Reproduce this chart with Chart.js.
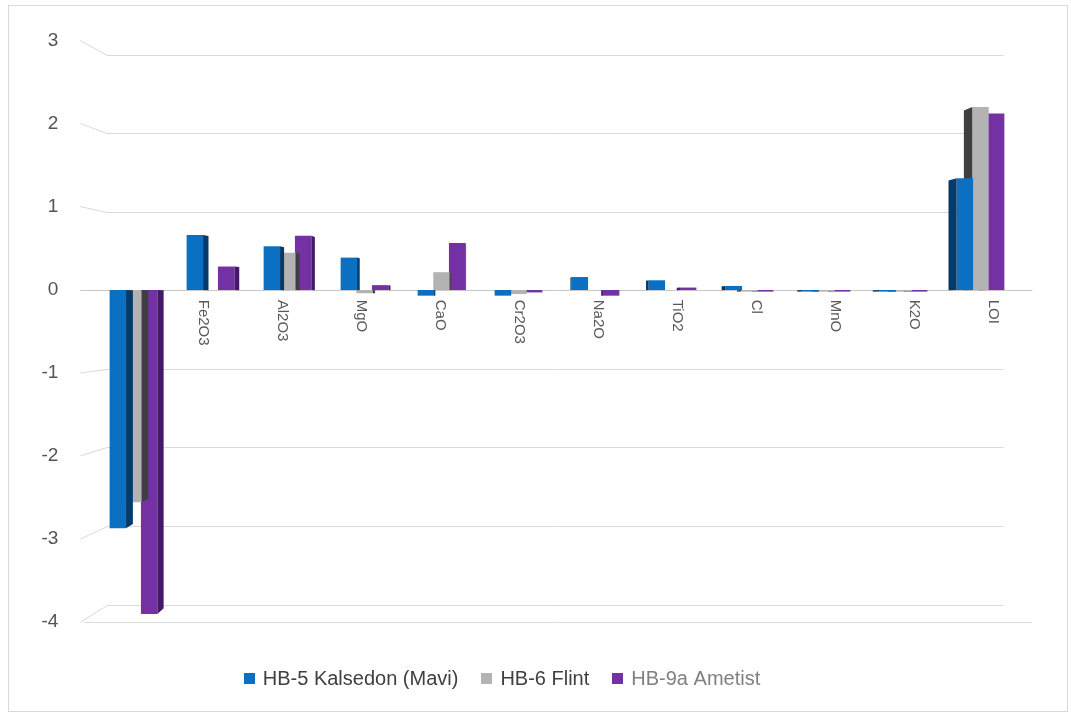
<!DOCTYPE html>
<html>
<head>
<meta charset="utf-8">
<script src="https://cdn.jsdelivr.net/npm/chart.js@4.4.1/dist/chart.umd.min.js"></script>
<style>
  html, body { margin: 0; padding: 0; background: #ffffff; }
  canvas { display: block; }
</style>
</head>
<body>
<canvas id="chart" width="1071" height="713"></canvas>
<script>
// Oxide differences per sample
const categories = ['SiO2', 'Fe2O3', 'Al2O3', 'MgO', 'CaO', 'Cr2O3', 'Na2O', 'TiO2', 'Cl', 'MnO', 'K2O', 'LOI'];
const kalsedon = [-2.94, 0.68, 0.54, 0.40, -0.07, -0.07, 0.16, 0.12, 0.05, -0.02, -0.02, 1.38];
const flint    = [-2.62, 0.00, 0.46, -0.04, 0.22, -0.05, 0.00, 0.00, -0.02, -0.02, -0.02, 2.26];
const ametist  = [-4.00, 0.29, 0.67, 0.06, 0.58, -0.03, -0.07, 0.03, -0.02, -0.02, -0.02, 2.18];
const seriesNames = ['HB-5 Kalsedon (Mavi)', 'HB-6 Flint', 'HB-9a Ametist'];
const yTickValues = [3, 2, 1, 0, -1, -2, -3, -4];
const yTickLabels = ['3', '2', '1', '0', '-1', '-2', '-3', '-4'];

// Styling
const seriesColors = ['#0c70c2', '#b3b3b3', '#7431a4'];
const sideColors   = ['#053a69', '#3f3f3f', '#44196a'];
const legendTextColors = ['#404040', '#404040', '#808080'];
const FONT = '"Liberation Sans", Arial, sans-serif';

// Simple perspective: the bars sit on a middle plane, the tick labels on the
// front plane and the gridlines on the back wall.
const VP = { x: 505, y: 300 };
const FRONT = 1.026, BACK = 0.97, DEPTH = 0.982;
const proj = (x, y, f) => [VP.x + (x - VP.x) * f, VP.y + (y - VP.y) * f];
const crisp = v => Math.round(v) + 0.5;

function line(ctx, x1, y1, x2, y2) {
  ctx.beginPath();
  ctx.moveTo(x1, y1);
  ctx.lineTo(x2, y2);
  ctx.stroke();
}

const wallPlugin = {
  id: 'wall',
  beforeDatasetsDraw(chart) {
    const { ctx, chartArea: ca } = chart;
    const ys = chart.scales.y;
    ctx.save();
    ctx.lineWidth = 1;
    ctx.font = '19px ' + FONT;
    ctx.fillStyle = '#545454';
    ctx.textAlign = 'right';
    ctx.textBaseline = 'middle';
    yTickValues.forEach((v, i) => {
      const yb = ys.getPixelForValue(v);
      const [bl, by] = proj(ca.left, yb, BACK);
      const [br] = proj(ca.right, yb, BACK);
      const [fl, fy] = proj(ca.left, yb, FRONT);
      const [fr] = proj(ca.right, yb, FRONT);
      ctx.strokeStyle = '#d9d9d9';
      if (v === 0) {
        ctx.strokeStyle = '#c8c8c8';
        line(ctx, fl - 4, crisp(fy), fr, crisp(fy));
      } else {
        line(ctx, bl, crisp(by), br, crisp(by));
        line(ctx, fl - 4, fy, bl, crisp(by));
      }
      if (i === yTickValues.length - 1) {
        // front edge of the floor
        line(ctx, fl, crisp(fy), fr, crisp(fy));
      }
      ctx.fillText(yTickLabels[i], fl - 26, fy);
    });
    ctx.restore();
  },
  afterDatasetDraw(chart, args) {
    const { ctx } = chart;
    const idx = args.index;
    ctx.save();
    ctx.fillStyle = sideColors[idx];
    args.meta.data.forEach(bar => {
      const { x, y, base, width } = bar.getProps(['x', 'y', 'base', 'width'], true);
      if (Math.abs(y - base) < 0.5) return;
      const edge = x < VP.x ? x + width / 2 : x - width / 2;
      const k = 1 - DEPTH;
      const dx = (VP.x - edge) * k;
      const dyT = (VP.y - y) * k;
      const dyB = (VP.y - base) * k;
      ctx.beginPath();
      ctx.moveTo(edge, y);
      ctx.lineTo(edge + dx, y + dyT);
      ctx.lineTo(edge + dx, base + dyB);
      ctx.lineTo(edge, base);
      ctx.closePath();
      ctx.fill();
    });
    ctx.restore();

    if (idx === 1) {
      // category names, rotated, just under the zero line of the front plane
      const xs = chart.scales.x, ys = chart.scales.y;
      const y0 = ys.getPixelForValue(0);
      ctx.save();
      ctx.font = '15px ' + FONT;
      ctx.fillStyle = '#595959';
      ctx.textAlign = 'left';
      ctx.textBaseline = 'middle';
      categories.forEach((c, k) => {
        const [fx, fy] = proj(xs.getPixelForValue(k), y0, FRONT);
        ctx.save();
        ctx.translate(fx, fy + 10);
        ctx.rotate(Math.PI / 2);
        ctx.fillText(c, 0, 0);
        ctx.restore();
      });
      ctx.restore();
    }
  },
  afterDraw(chart) {
    const { ctx } = chart;
    ctx.save();
    // legend
    ctx.font = '20px ' + FONT;
    ctx.textBaseline = 'middle';
    ctx.textAlign = 'left';
    const box = 11, gap = 8, spacing = 23, cy = 678, cx = 502;
    const widths = seriesNames.map(n => ctx.measureText(n).width);
    const total = widths.reduce((a, w) => a + box + gap + w, 0) + spacing * (seriesNames.length - 1);
    let x = cx - total / 2;
    seriesNames.forEach((n, i) => {
      ctx.fillStyle = seriesColors[i];
      ctx.fillRect(Math.round(x), Math.round(cy - box / 2), box, box);
      ctx.fillStyle = legendTextColors[i];
      ctx.fillText(n, x + box + gap, cy + 1);
      x += box + gap + widths[i] + spacing;
    });
    // outer frame
    ctx.strokeStyle = '#d9d9d9';
    ctx.lineWidth = 1;
    ctx.strokeRect(8.5, 5.5, 1059, 706);
    ctx.restore();
  }
};

new Chart(document.getElementById('chart'), {
  type: 'bar',
  data: {
    labels: categories,
    datasets: [
      { label: seriesNames[0], data: kalsedon, backgroundColor: seriesColors[0] },
      { label: seriesNames[1], data: flint, backgroundColor: seriesColors[1] },
      { label: seriesNames[2], data: ametist, backgroundColor: seriesColors[2] }
    ]
  },
  options: {
    responsive: false,
    animation: false,
    devicePixelRatio: 1,
    layout: { padding: { left: 95, right: 52, top: 47, bottom: 99 } },
    datasets: {
      bar: { categoryPercentage: 0.61, barPercentage: 1.05, borderWidth: 0 }
    },
    scales: {
      x: { display: false, grid: { display: false } },
      y: { display: false, min: -4, max: 3, grid: { display: false } }
    },
    plugins: {
      legend: { display: false },
      tooltip: { enabled: false }
    }
  },
  plugins: [wallPlugin]
});
</script>
</body>
</html>
